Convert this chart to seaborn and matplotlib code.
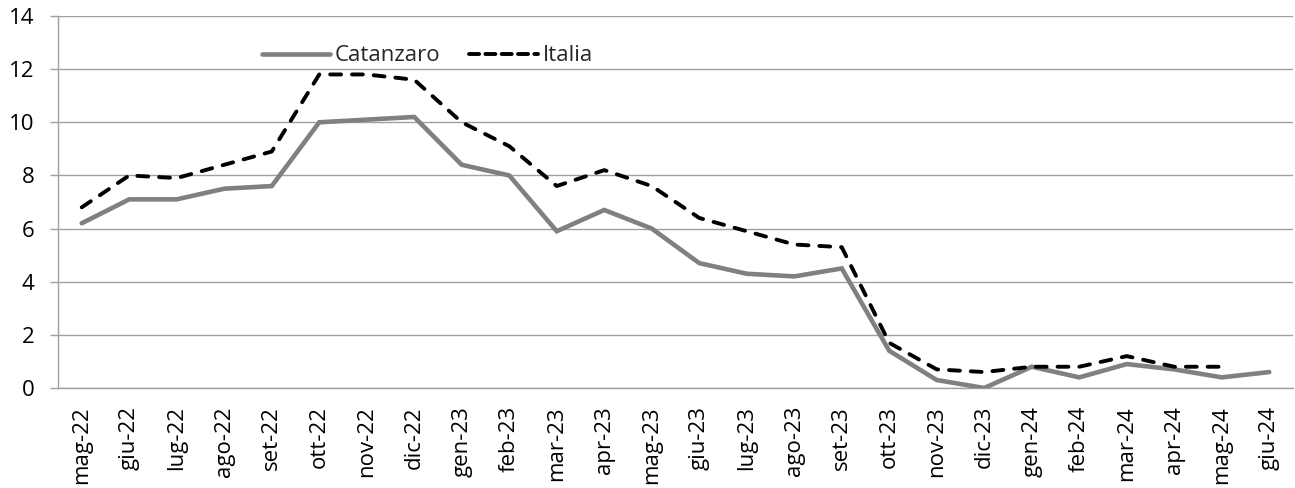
import matplotlib
matplotlib.use("Agg")
import matplotlib.pyplot as plt
import seaborn as sns
import pandas as pd
import numpy as np
from matplotlib.ticker import FixedLocator, MultipleLocator
from matplotlib.lines import Line2D

months = ["mag-22", "giu-22", "lug-22", "ago-22", "set-22", "ott-22", "nov-22", "dic-22",
          "gen-23", "feb-23", "mar-23", "apr-23", "mag-23", "giu-23", "lug-23", "ago-23",
          "set-23", "ott-23", "nov-23", "dic-23", "gen-24", "feb-24", "mar-24", "apr-24",
          "mag-24", "giu-24"]
catanzaro = [6.2, 7.1, 7.1, 7.5, 7.6, 10.0, 10.1, 10.2, 8.4, 8.0, 5.9, 6.7, 6.0, 4.7, 4.3, 4.2,
             4.5, 1.4, 0.3, 0.0, 0.8, 0.4, 0.9, 0.7, 0.4, 0.6]
italia = [6.8, 8.0, 7.9, 8.4, 8.9, 11.8, 11.8, 11.6, 10.0, 9.1, 7.6, 8.2, 7.6, 6.4, 5.9, 5.4,
          5.3, 1.7, 0.7, 0.6, 0.8, 0.8, 1.2, 0.8, 0.8, np.nan]
series_names = ["Catanzaro", "Italia"]

sns.set_style("white")
plt.rcParams["font.family"] = ["Open Sans", "DejaVu Sans"]
FS = 16

x = np.arange(len(months))
df = pd.DataFrame({
    "x": np.concatenate([x, x]),
    "valore": catanzaro + italia,
    "serie": [series_names[0]] * len(months) + [series_names[1]] * len(months),
})

fig = plt.figure(figsize=(12.95, 4.88), dpi=100)
ax = fig.add_axes([58 / 1295, 1 - 388 / 488, (1293 - 58) / 1295, (388 - 16) / 488])

grid_c = "#a0a0a0"
sns.lineplot(data=df, x="x", y="valore", hue="serie", style="serie",
             palette={"Catanzaro": "#808080", "Italia": "#000000"},
             dashes={"Catanzaro": "", "Italia": (2.8, 2.8)},
             size="serie", sizes={"Catanzaro": 3.3, "Italia": 2.8},
             ax=ax, legend=False, zorder=3)

for ln in ax.get_lines():
    ln.set_dash_capstyle("round")
    ln.set_solid_capstyle("round")
    ln.set_solid_joinstyle("miter")

ax.set_xlim(-0.5, len(months) - 0.5)
ax.set_ylim(0, 14)
ax.yaxis.set_major_locator(MultipleLocator(2))
ax.set_xticks(x)
ax.set_xticklabels(months, rotation=90, fontsize=FS, color="#000000")
ax.xaxis.set_minor_locator(FixedLocator(np.arange(-0.5, len(months), 1.0)))
ax.tick_params(axis="x", which="major", length=0, pad=13, labelcolor="#000000")
ax.tick_params(axis="x", which="minor", length=5.8, width=1, color=grid_c, direction="out")
ax.tick_params(axis="y", which="major", length=5.8, width=1, color=grid_c, pad=11,
               labelsize=FS, labelcolor="#000000", direction="out", left=True)
ax.set_xlabel("")
ax.set_ylabel("")
ax.grid(axis="y", color=grid_c, linewidth=1.0)
ax.grid(axis="x", visible=False)
ax.set_axisbelow(True)
for s in ["top", "right"]:
    ax.spines[s].set_visible(False)
for s in ["left", "bottom"]:
    ax.spines[s].set_color(grid_c)
    ax.spines[s].set_linewidth(1.0)
    ax.spines[s].set_zorder(2)

h1 = Line2D([], [], color="#808080", lw=3.3, solid_capstyle="round")
h2 = Line2D([], [], color="#000000", lw=2.8, dashes=(2.6, 1.6), dash_capstyle="round")
ax.legend([h1, h2], series_names, loc="center", bbox_to_anchor=(0.299, 0.893),
          ncol=2, frameon=False, fontsize=FS, handlelength=3.1, handletextpad=0.2,
          columnspacing=1.3)

fig.savefig("out.png", dpi=100)
